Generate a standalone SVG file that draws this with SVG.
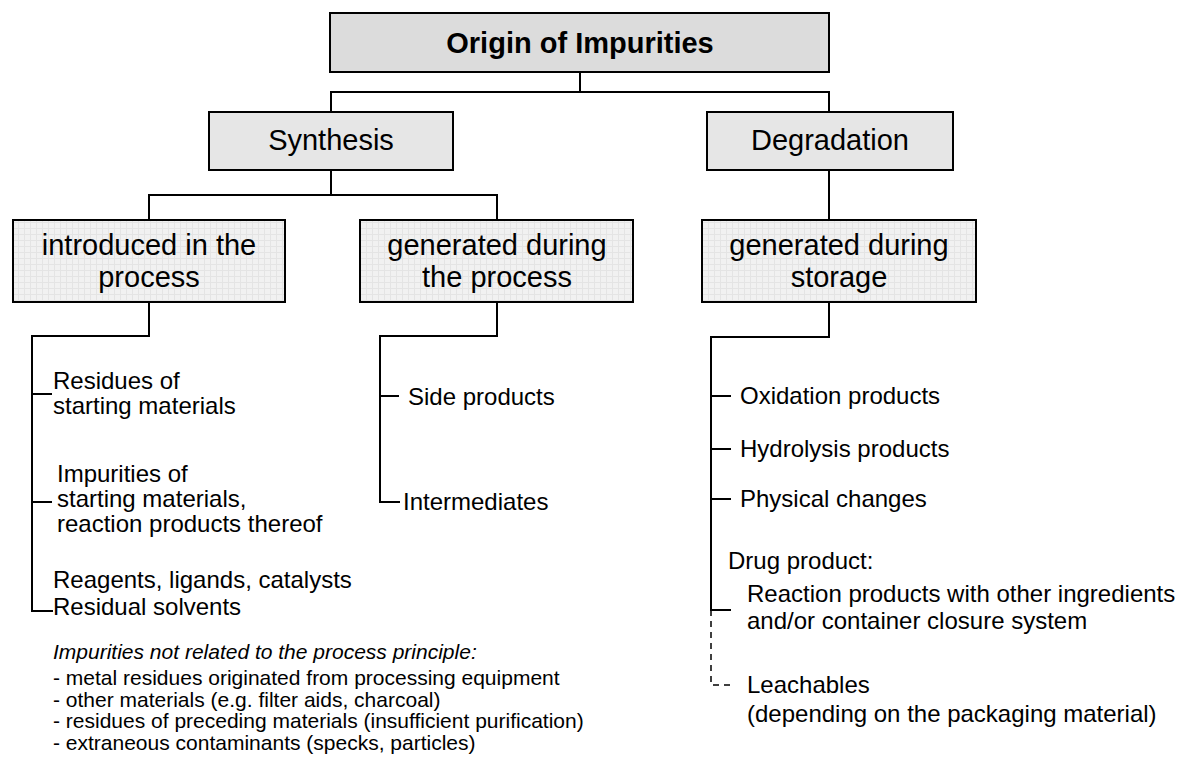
<svg xmlns="http://www.w3.org/2000/svg" width="1178" height="760" viewBox="0 0 1178 760">
<style>
text{font-family:"Liberation Sans",Arial,sans-serif;fill:#000}
.box{stroke:#000;stroke-width:2}
.bt{font-size:29px;text-anchor:middle}
.li{font-size:24px}
.nt{font-size:21px}
.ln{fill:none;stroke:#000;stroke-width:2}
.ds{fill:none;stroke:#000;stroke-width:1.5;stroke-dasharray:6 5}
</style>
<defs>
<pattern id="grid" width="6" height="6" patternUnits="userSpaceOnUse">
<rect width="6" height="6" fill="#f1f1f1"/>
<path d="M0 0.5H6M0.5 0V6" stroke="#e4e4e4" stroke-width="1"/>
</pattern>
</defs>
<rect width="1178" height="760" fill="#fff"/>
<g id="connectors">
<path class="ln" d="M580 72V92M331 112V92H829V112"/>
<path class="ln" d="M331 170V195M149 220V195H497V220"/>
<path class="ln" d="M829 170V220"/>
<path class="ln" d="M149 302V336H32V611H53M32 394H52M32 502H52"/>
<path class="ln" d="M497 302V336H380V502H400M380 396H399"/>
<path class="ln" d="M829 302V337H711V610H731M711 396H731M711 449H731M711 499H731"/>
<path class="ds" d="M711 610V685H731"/>
</g>
<g id="origin">
<rect class="box" x="330" y="13" width="499" height="59" fill="#dcdcdc"/>
<text class="bt" x="580" y="53" font-weight="bold">Origin of Impurities</text>
</g>
<g id="synthesis">
<rect class="box" x="209" y="112" width="244" height="58" fill="#e6e6e6"/>
<text class="bt" x="331" y="150">Synthesis</text>
</g>
<g id="degradation">
<rect class="box" x="707" y="112" width="246" height="58" fill="#e6e6e6"/>
<text class="bt" x="830" y="150">Degradation</text>
</g>
<g id="introduced">
<rect class="box" x="13" y="220" width="272" height="82" fill="url(#grid)"/>
<text class="bt" x="149" y="255">introduced in the</text>
<text class="bt" x="149" y="287">process</text>
</g>
<g id="generated">
<rect class="box" x="360" y="220" width="273" height="82" fill="url(#grid)"/>
<text class="bt" x="497" y="255">generated during</text>
<text class="bt" x="497" y="287">the process</text>
</g>
<g id="storage">
<rect class="box" x="702" y="220" width="274" height="82" fill="url(#grid)"/>
<text class="bt" x="839" y="255">generated during</text>
<text class="bt" x="839" y="287">storage</text>
</g>
<g id="introduced-items">
<text class="li" x="53" y="389">Residues of</text>
<text class="li" x="53" y="414">starting materials</text>
<text class="li" x="57" y="482">Impurities of</text>
<text class="li" x="57" y="507">starting materials,</text>
<text class="li" x="57" y="532">reaction products thereof</text>
<text class="li" x="53" y="588">Reagents, ligands, catalysts</text>
<text class="li" x="53" y="615">Residual solvents</text>
</g>
<g id="notes">
<text class="nt" x="53" y="659" font-style="italic">Impurities not related to the process principle:</text>
<text class="nt" x="53" y="685">- metal residues originated from processing equipment</text>
<text class="nt" x="53" y="707">- other materials (e.g. filter aids, charcoal)</text>
<text class="nt" x="53" y="728">- residues of preceding materials (insufficient purification)</text>
<text class="nt" x="53" y="750">- extraneous contaminants (specks, particles)</text>
</g>
<g id="generated-items">
<text class="li" x="408" y="405">Side products</text>
<text class="li" x="403" y="510">Intermediates</text>
</g>
<g id="storage-items">
<text class="li" x="740" y="404">Oxidation products</text>
<text class="li" x="740" y="457">Hydrolysis products</text>
<text class="li" x="740" y="507">Physical changes</text>
<text class="li" x="728" y="569">Drug product:</text>
<text class="li" x="747" y="602">Reaction products with other ingredients</text>
<text class="li" x="747" y="629">and/or container closure system</text>
<text class="li" x="747" y="693">Leachables</text>
<text class="li" x="747" y="722">(depending on the packaging material)</text>
</g>
</svg>
